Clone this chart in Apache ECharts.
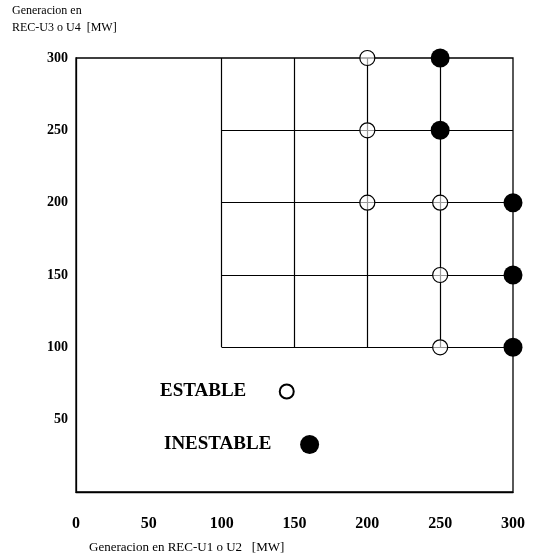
<!DOCTYPE html>
<html>
<head>
<meta charset="utf-8">
<script src="https://cdn.jsdelivr.net/npm/echarts@6/dist/echarts.min.js"></script>
<style>html,body{margin:0;padding:0;background:#fff;}#c{width:533px;height:560px;}</style>
</head>
<body>
<div id="c"></div>
<script>
const xTicks = [0, 50, 100, 150, 200, 250, 300];
const yTicks = [0, 50, 100, 150, 200, 250, 300];
const gridValues = [100, 150, 200, 250, 300];
const estableX = [200, 200, 200, 250, 250, 250];
const estableY = [300, 250, 200, 200, 150, 100];
const inestableX = [250, 250, 300, 300, 300];
const inestableY = [300, 250, 200, 150, 100];
const xTitle = 'Generacion en REC-U1 o U2   [MW]';
const yTitle = ['Generacion en', 'REC-U3 o U4  [MW]'];
const legendNames = ['ESTABLE', 'INESTABLE'];

const serif = '"Liberation Serif", "DejaVu Serif", serif';
const chart = echarts.init(document.getElementById('c'), null, {renderer: 'canvas'});

const gridLines = [];
gridValues.forEach(v => {
  if (v < 300) {
    gridLines.push([{coord: [v, 100]}, {coord: [v, 300]}]);
    gridLines.push([{coord: [100, v]}, {coord: [300, v]}]);
  }
});

chart.setOption({
  animation: false,
  backgroundColor: '#fff',
  grid: {left: 76, right: 20, top: 58, bottom: 68, show: true, borderColor: '#000', borderWidth: 1.3, backgroundColor: 'transparent'},
  xAxis: {
    type: 'value', min: xTicks[0], max: xTicks[xTicks.length - 1], interval: 50,
    axisLine: {show: true, lineStyle: {color: '#000', width: 1.3}},
    axisTick: {show: false}, splitLine: {show: false},
    axisLabel: {margin: 24, color: '#000', fontFamily: serif, fontWeight: 'bold', fontSize: 16}
  },
  yAxis: {
    type: 'value', min: yTicks[0], max: yTicks[yTicks.length - 1], interval: 50,
    axisLine: {show: true, lineStyle: {color: '#000', width: 1.3}},
    axisTick: {show: false}, splitLine: {show: false},
    axisLabel: {margin: 8, color: '#000', fontFamily: serif, fontWeight: 'bold', fontSize: 14,
      formatter: v => v === 0 ? '' : String(v)}
  },
  legend: [
    {data: [legendNames[0]], left: 155, top: 377, align: 'right', itemWidth: 14, itemHeight: 14,
      formatter: n => n + '      ',
      textStyle: {fontFamily: serif, fontWeight: 'bold', fontSize: 19, color: '#000'},
      selectedMode: false},
    {data: [legendNames[1]], left: 159, top: 430, align: 'right', itemWidth: 19, itemHeight: 19,
      formatter: n => n + '     ',
      textStyle: {fontFamily: serif, fontWeight: 'bold', fontSize: 19, color: '#000'},
      selectedMode: false}
  ],
  graphic: [
    {type: 'text', left: 12, top: 2, style: {text: yTitle.join('\n'), font: '12px ' + serif, fill: '#000', lineHeight: 17}},
    {type: 'text', left: 89, top: 541, style: {text: xTitle, font: '13px ' + serif, fill: '#000'}}
  ],
  series: [
    {
      type: 'line', data: [], silent: true, z: 1,
      markLine: {silent: true, symbol: ['none', 'none'], label: {show: false}, z: 1,
        lineStyle: {color: '#000', type: 'solid', width: 1.2}, data: gridLines, animation: false}
    },
    {
      name: legendNames[0], type: 'scatter', z: 3,
      data: estableX.map((x, i) => [x, estableY[i]]),
      symbol: 'circle', symbolSize: 15,
      itemStyle: {color: 'rgba(255,255,255,0.6)', opacity: 1, borderColor: '#000', borderWidth: 1.2}
    },
    {
      name: legendNames[1], type: 'scatter', z: 4,
      data: inestableX.map((x, i) => [x, inestableY[i]]),
      symbol: 'circle', symbolSize: 19,
      itemStyle: {color: '#000', opacity: 1, borderColor: '#000', borderWidth: 0}
    }
  ]
});
</script>
</body>
</html>
